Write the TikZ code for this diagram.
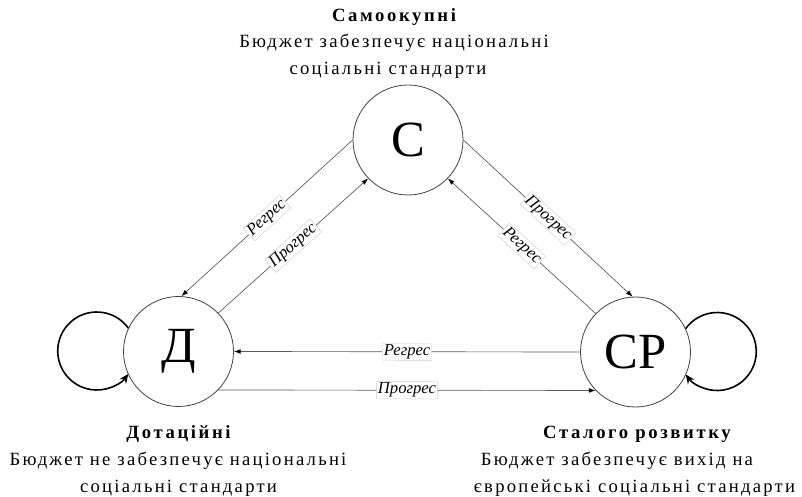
\documentclass[tikz,border=0pt]{standalone}
\usepackage{fontspec}
\setmainfont{Liberation Serif}
\usetikzlibrary{arrows.meta}
\begin{document}
\begin{tikzpicture}[x=0.75pt,y=0.75pt,
  state/.style={circle,draw=black!75,line width=0.6pt,minimum size=82.5pt,inner sep=0pt,font=\fontsize{38}{38}\selectfont},
  conn/.style={draw=black!65,line width=0.5pt,-{Latex[length=5pt,width=3.5pt,black]}},
  lbl/.style={sloped,pos=0.5,fill=white,draw=black!20,line width=0.3pt,inner sep=1pt,font=\fontsize{12.5}{12.5}\selectfont\itshape},
  selfloop/.style={line width=1.2pt,-{Stealth[length=7pt,width=6pt]}},
  title/.style={anchor=base,inner sep=0pt,font=\fontsize{14}{14}\selectfont\bfseries\addfontfeature{LetterSpace=14}},
  body/.style={anchor=base,inner sep=0pt,font=\fontsize{14}{14}\selectfont\addfontfeature{LetterSpace=12}}
]
\useasboundingbox (0,0) rectangle (802,496);
\node[state] (C) at (408,356) {С};
\node[state] (D) at (178.5,144.5) {Д};
\node[state] (SR) at (635.5,144) {СР};

\draw[conn] (C.180) -- node[lbl]{Регрес} (D.87);
\draw[conn] (D.44) -- node[lbl]{Прогрес} (C.224);
\draw[conn] (C.0) -- node[lbl]{Прогрес} (SR.93);
\draw[conn] (SR.136) -- node[lbl]{Регрес} (C.-44);
\draw[conn] (SR.180) -- node[lbl]{Регрес} (D.0);
\draw[conn] (D.-44) -- node[lbl]{Прогрес} (SR.224);

\draw[selfloop] (D.155) arc[start angle=36,end angle=324,radius=39];
\draw[selfloop] (SR.25) arc[start angle=144,end angle=-144,radius=39];

\node[title] (t1) at (394,474) {Самоокупні};
\node[body] (t1a) at (394,448) {Бюджет забезпечує національні};
\node[body] (t1b) at (388,421) {соціальні стандарти};
\node[title] (t2) at (178.5,58) {Дотаційні};
\node[body] (t2a) at (178,31) {Бюджет не забезпечує національні};
\node[body] (t2b) at (178.5,4) {соціальні стандарти};
\node[title] (t3) at (637,58) {Сталого розвитку};
\node[body] (t3a) at (617,31) {Бюджет забезпечує вихід на};
\node[body] (t3b) at (634.5,4) {європейські соціальні стандарти};
\end{tikzpicture}
\end{document}
